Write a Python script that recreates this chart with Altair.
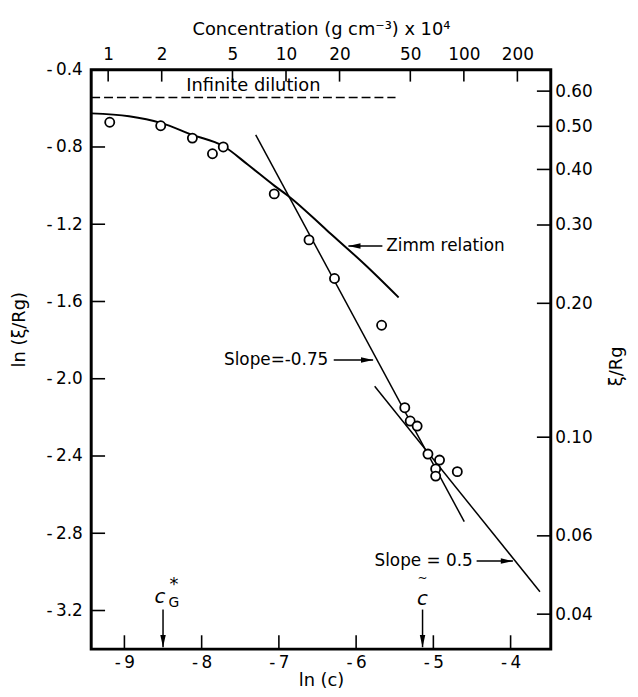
import math
import altair as alt
import pandas as pd

# ---- measured data (ln c, ln(xi/Rg)) ----
ln_c = [-9.19, -8.53, -8.12, -7.86, -7.72, -7.06, -6.61, -6.28, -5.67,
        -5.37, -5.30, -5.21, -5.07, -4.92, -4.97, -4.97, -4.69]
ln_xi = [-0.672, -0.690, -0.754, -0.835, -0.800, -1.043, -1.281, -1.481, -1.723,
         -2.150, -2.219, -2.245, -2.390, -2.421, -2.467, -2.504, -2.481]

# Zimm relation curve
zimm_ln_c = [-9.43, -8.94, -8.53, -8.12, -7.72, -7.40, -7.06, -6.87, -6.38, -5.87, -5.45]
zimm_ln_xi = [-0.626, -0.641, -0.675, -0.737, -0.795, -0.892, -1.000, -1.056, -1.231, -1.415, -1.579]

# straight lines
slope075_ln_c = [-7.30, -4.60]
slope075_ln_xi = [-0.737, -2.740]
slope05_ln_c = [-5.76, -3.62]
slope05_ln_xi = [-2.039, -3.103]
dilution_ln_c = [-9.43, -5.49]
dilution_ln_xi = [-0.544, -0.544]

# axes
bottom_ticks = [-9, -8, -7, -6, -5, -4]
left_ticks = [-0.4, -0.8, -1.2, -1.6, -2.0, -2.4, -2.8, -3.2]
conc_ticks = [1, 2, 5, 10, 20, 50, 100, 200]          # g cm^-3 x 10^4
ratio_ticks = [0.60, 0.50, 0.40, 0.30, 0.20, 0.10, 0.06, 0.04]

X_DOMAIN = [-9.43, -3.48]
Y_DOMAIN = [-3.40, -0.40]
W, H = 464, 585
FONT = "DejaVu Sans"
FS = 17

xs = alt.Scale(domain=X_DOMAIN, nice=False, zero=False)
ys = alt.Scale(domain=Y_DOMAIN, nice=False, zero=False)


def X(f="x"):
    return alt.X(f"{f}:Q", scale=xs, axis=None)


def Y(f="y"):
    return alt.Y(f"{f}:Q", scale=ys, axis=None)


common_axis = dict(ticks=False, domain=False, grid=False, labelFont=FONT, titleFont=FONT,
                   labelFontSize=FS, titleFontSize=FS + 1, labelColor="black",
                   titleColor="black", titleFontWeight="normal")

layers = []

# bottom ticks + axis
layers.append(alt.Chart(pd.DataFrame({"x": bottom_ticks})).mark_rule(color="black", strokeWidth=1.6).encode(
    x=alt.X("x:Q", scale=xs, axis=alt.Axis(
        orient="bottom", values=bottom_ticks, labelPadding=6,
        labelExpr="(datum.value < 0 ? '-\u2009' : '') + format(abs(datum.value), 'd')",
        title="ln (c)", titlePadding=1, **common_axis)),
    y=alt.value(H), y2=alt.value(H - 14)))

# left ticks + axis
layers.append(alt.Chart(pd.DataFrame({"y": left_ticks})).mark_rule(color="black", strokeWidth=1.6).encode(
    y=alt.Y("y:Q", scale=ys, axis=alt.Axis(
        orient="left", values=left_ticks, labelPadding=9,
        labelExpr="(datum.value < 0 ? '-\u2009' : '') + format(abs(datum.value), '.1f')",
        title="ln (ξ/Rg)", titleAngle=270, titleX=-72, titleY=262,
        titleAlign="center", titleBaseline="middle", **common_axis)),
    x=alt.value(0), x2=alt.value(14)))

# top ticks + axis (concentration)
top_vals = [math.log(k * 1e-4) for k in conc_ticks]
layers.append(alt.Chart(pd.DataFrame({"x": top_vals})).mark_rule(color="black", strokeWidth=1.6).encode(
    x=alt.X("x:Q", scale=xs, axis=alt.Axis(
        orient="top", values=top_vals, labelPadding=6,
        labelExpr="format(round(exp(datum.value) * 10000), 'd')",
        title="Concentration (g cm⁻³) x 10⁴", titlePadding=8, **common_axis)),
    y=alt.value(0), y2=alt.value(12)))

# right ticks + axis (xi/Rg)
right_vals = [math.log(v) for v in ratio_ticks]
layers.append(alt.Chart(pd.DataFrame({"y": right_vals})).mark_rule(color="black", strokeWidth=1.6).encode(
    y=alt.Y("y:Q", scale=ys, axis=alt.Axis(
        orient="right", values=right_vals, labelPadding=4,
        labelExpr="format(exp(datum.value), '.2f')",
        title="ξ/Rg", titleAngle=270, titleX=66, titleY=299,
        titleAlign="center", titleBaseline="middle", **common_axis)),
    x=alt.value(W - 14), x2=alt.value(W)))

# infinite dilution dashed line
layers.append(alt.Chart(pd.DataFrame({"x": dilution_ln_c, "y": dilution_ln_xi})).mark_line(
    color="black", strokeWidth=1.4, strokeDash=[9, 4]).encode(x=X(), y=Y()))

# Zimm curve
layers.append(alt.Chart(pd.DataFrame({"x": zimm_ln_c, "y": zimm_ln_xi})).mark_line(
    color="black", strokeWidth=2, interpolate="monotone").encode(x=X(), y=Y()))

# slope lines
layers.append(alt.Chart(pd.DataFrame({"x": slope075_ln_c, "y": slope075_ln_xi})).mark_line(
    color="black", strokeWidth=1.5).encode(x=X(), y=Y()))
layers.append(alt.Chart(pd.DataFrame({"x": slope05_ln_c, "y": slope05_ln_xi})).mark_line(
    color="black", strokeWidth=1.5).encode(x=X(), y=Y()))

# data points
layers.append(alt.Chart(pd.DataFrame({"x": ln_c, "y": ln_xi})).mark_point(
    shape="circle", filled=True, fill="white", stroke="black", strokeWidth=1.8,
    size=85, opacity=1).encode(x=X(), y=Y()))


def text(t, x, y, align="left", size=FS, style="normal", dx=0, dy=0):
    return alt.Chart(pd.DataFrame({"x": [x], "y": [y], "t": [t]})).mark_text(
        align=align, baseline="middle", font=FONT, fontSize=size, fontStyle=style,
        color="black", dx=dx, dy=dy).encode(x=X(), y=Y(), text="t:N")


RIGHT = "M0,0L-2,-0.45L-2,0.45Z"
LEFT = "M0,0L2,-0.45L2,0.45Z"
DOWN = "M0,0L-0.45,-2L0.45,-2Z"


def arrow(x1, y1, x2, y2, shape):
    df = pd.DataFrame({"x": [x1], "y": [y1], "x2": [x2], "y2": [y2]})
    shaft = alt.Chart(df).mark_rule(color="black", strokeWidth=1.5).encode(
        x=X(), y=Y(), x2="x2:Q", y2="y2:Q")
    head = alt.Chart(df).mark_point(shape=shape, filled=True, color="black", size=150,
                                    opacity=1).encode(x=X("x2"), y=Y("y2"))
    return [shaft, head]


layers.append(text("Infinite dilution", -7.33, -0.487, align="center", size=18))
layers.append(text("Zimm relation", -5.61, -1.313))
layers += arrow(-5.66, -1.313, -6.10, -1.313, LEFT)
layers.append(text("Slope=-0.75", -6.36, -1.903, align="right"))
layers += arrow(-6.29, -1.903, -5.78, -1.903, RIGHT)
layers.append(text("Slope = 0.5", -4.49, -2.944, align="right"))
layers += arrow(-4.44, -2.944, -3.97, -2.944, RIGHT)

# c*_G marker
layers.append(text("c", -8.50, -3.13, align="center", size=20, style="italic", dx=-3))
layers.append(text("*", -8.50, -3.13, align="center", size=18, dx=11, dy=-12))
layers.append(text("G", -8.50, -3.13, align="center", size=14, dx=11, dy=6))
layers += arrow(-8.50, -3.195, -8.50, -3.39, DOWN)

# c~ marker
layers.append(text("c", -5.14, -3.14, align="center", size=20, style="italic"))
layers.append(text("~", -5.14, -3.14, align="center", size=12, dy=-21))
layers += arrow(-5.14, -3.195, -5.14, -3.39, DOWN)

chart = alt.layer(*layers).resolve_axis(x="independent", y="independent").properties(
    width=W, height=H,
    autosize=alt.AutoSizeParams(type="none"),
    padding={"left": 84, "top": 59, "right": 80, "bottom": 45},
).configure_view(stroke="black", strokeWidth=3)

chart.save("out.html", embed_options={"renderer": "svg", "actions": False})
